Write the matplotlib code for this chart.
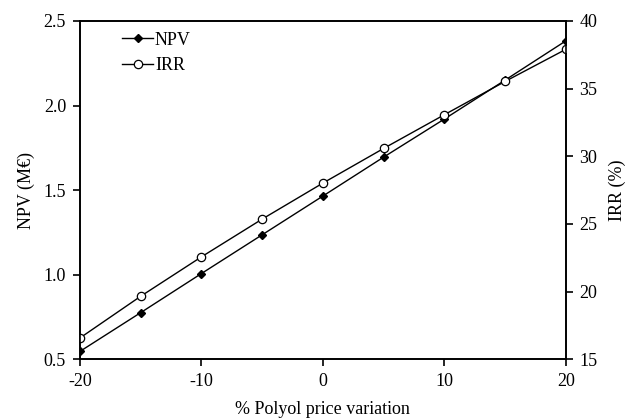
import matplotlib
matplotlib.use("Agg")
import matplotlib.pyplot as plt

plt.rcParams['font.family'] = ['Liberation Serif', 'DejaVu Serif']
plt.rcParams['font.size'] = 13
plt.rcParams['axes.unicode_minus'] = False

# data
variation = [-20, -15, -10, -5, 0, 5, 10, 15, 20]
npv = [0.547, 0.776, 1.007, 1.236, 1.465, 1.695, 1.92, 2.15, 2.382]
irr = [16.58, 19.66, 22.57, 25.36, 28.02, 30.58, 33.07, 35.53, 37.9]

fig = plt.figure(figsize=(6.38, 4.18), dpi=100)
ax1 = fig.add_axes([0.1254, 0.1404, 0.7613, 0.8094])
ax2 = ax1.twinx()

l1, = ax1.plot(variation, npv, color='black', lw=1.0, marker='D', ms=4,
               mfc='black', mec='black', label='NPV')
l2, = ax2.plot(variation, irr, color='black', lw=1.0, marker='o', ms=6,
               mfc='white', mec='black', mew=0.9, label='IRR')

ax1.set_xlim(-20, 20)
ax1.set_ylim(0.5, 2.5)
ax2.set_ylim(15, 40)
ax1.set_xticks([-20, -10, 0, 10, 20])
ax1.set_yticks([0.5, 1.0, 1.5, 2.0, 2.5])
ax1.set_yticklabels(['0.5', '1.0', '1.5', '2.0', '2.5'])
ax2.set_yticks([15, 20, 25, 30, 35, 40])

for ax in (ax1, ax2):
    for s in ax.spines.values():
        s.set_linewidth(1.2)
ax1.tick_params(axis='both', direction='out', length=5, width=1.2, pad=5)
ax2.tick_params(axis='y', direction='out', length=5, width=1.2, pad=5)

ax1.set_xlabel('% Polyol price variation', labelpad=8)
ax1.set_ylabel('NPV (M€)', labelpad=6)
ax2.set_ylabel('IRR (%)', labelpad=8)

ax1.legend([l1, l2], ['NPV', 'IRR'], loc='upper left', frameon=False,
           handlelength=1.7, handletextpad=0.1, borderaxespad=0.2,
           bbox_to_anchor=(0.065, 1.0), labelspacing=0.45)

fig.savefig('out.png', dpi=100)
